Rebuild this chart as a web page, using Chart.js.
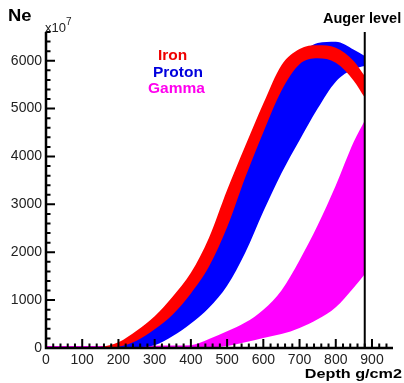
<!DOCTYPE html>
<html>
<head>
<meta charset="utf-8">
<script src="https://cdn.jsdelivr.net/npm/chart.js@4.4.1/dist/chart.umd.min.js"></script>
<style>
  body { margin: 0; background: #fff; }
  #wrap { position: relative; width: 404px; height: 383px; font-family: 'Liberation Sans', Arial, sans-serif; }
  .lbl { position: absolute; line-height: 1; font-weight: bold; white-space: nowrap; }
</style>
</head>
<body>
<div id="wrap">
  <canvas id="showerChart"></canvas>
  <div class="lbl" style="left:8px; top:7.5px; font-size:16px; color:#000; transform:scaleX(1.15); transform-origin:left;">Ne</div>
  <div class="lbl" style="left:45px; top:21px; font-size:13px; font-weight:normal; color:#222;">x10<span style="font-size:10px; position:relative; top:-7px;">7</span></div>
  <div class="lbl" style="left:323px; top:10.7px; font-size:14.5px; color:#000;">Auger level</div>
  <div class="lbl" style="left:158px; top:47px; font-size:15.5px; color:#ee0000;">Iron</div>
  <div class="lbl" style="left:153px; top:63.5px; font-size:15.5px; color:#0000dd;">Proton</div>
  <div class="lbl" style="left:148px; top:80px; font-size:15.5px; color:#ff00ee;">Gamma</div>
  <div class="lbl" style="right:2px; top:367.8px; font-size:12px; color:#000; transform:scaleX(1.35); transform-origin:right;">Depth g/cm2</div>
</div>
<script>
// profundidad atmosferica (g/cm2)
const depth = [0, 50, 100, 150, 200, 250, 300, 350, 400, 450, 500, 550, 600, 650, 700, 750, 800, 850, 880];

// bandas Ne (x10^7): borde superior / inferior
const ironHi   = [0, 0, 3, 20, 120, 360, 665, 1076, 1571, 2305, 3298, 4219, 5106, 5907, 6247, 6325, 6270, 5990, 5680];
const ironLo   = [0, 0, 0, 5, 25, 150, 390, 700, 1140, 1700, 2520, 3560, 4508, 5375, 5929, 6052, 5957, 5579, 5230];
const protonHi = [0, 0, 0, 10, 60, 250, 520, 880, 1350, 2000, 2900, 3900, 4800, 5650, 6100, 6370, 6394, 6230, 6100];
const protonLo = [0, 0, 0, 0, 5, 18, 60, 250, 510, 840, 1300, 1990, 2850, 3650, 4340, 5000, 5560, 5830, 5890];
const gammaHi  = [40, 40, 40, 40, 40, 42, 45, 50, 60, 190, 350, 530, 800, 1203, 1835, 2563, 3396, 4311, 4750];
const gammaLo  = [0, 0, 0, 0, 0, 0, 0, 0, 0, 10, 40, 120, 210, 290, 420, 600, 852, 1264, 1540];

// etiquetas de los ejes
const xTicks = [0, 100, 200, 300, 400, 500, 600, 700, 800, 900];
const yTicks = [0, 1000, 2000, 3000, 4000, 5000, 6000];

const augerDepth = 880;
const xMax = 958;
const yMax = 6600;

const FONT = "'Liberation Sans', Arial, sans-serif";

function pts(ys) {
  return depth.map((d, i) => ({ x: d, y: ys[i] }));
}

function banda(ys, color, fill) {
  return {
    data: pts(ys),
    borderColor: 'transparent',
    borderWidth: 0,
    backgroundColor: color,
    pointRadius: 0,
    fill: fill,
    cubicInterpolationMode: 'monotone'
  };
}

// ticks hacia adentro, estilo ROOT
const ticksRoot = {
  id: 'ticksRoot',
  afterDatasetsDraw(chart) {
    const { ctx, chartArea: a, scales: { x, y } } = chart;
    ctx.save();
    ctx.strokeStyle = '#000';
    ctx.lineWidth = 2;
    ctx.beginPath();
    for (let v = 0; v <= x.max; v += 20) {
      const px = x.getPixelForValue(v);
      const len = v % 100 === 0 ? 9 : 4.5;
      ctx.moveTo(px, a.bottom);
      ctx.lineTo(px, a.bottom - len);
    }
    for (let v = 0; v <= y.max; v += 200) {
      const py = y.getPixelForValue(v);
      const len = v % 1000 === 0 ? 9 : 4.5;
      ctx.moveTo(a.left, py);
      ctx.lineTo(a.left + len, py);
    }
    ctx.stroke();
    ctx.lineWidth = 2.5;
    ctx.beginPath();
    ctx.moveTo(a.left, a.top);
    ctx.lineTo(a.left, a.bottom);
    ctx.lineTo(a.right, a.bottom);
    ctx.stroke();
    ctx.restore();
  }
};

const ctx = document.getElementById('showerChart').getContext('2d');
new Chart(ctx, {
  type: 'line',
  data: {
    datasets: [
      {
        data: [{ x: augerDepth, y: 0 }, { x: augerDepth, y: yMax }],
        borderColor: '#000',
        borderWidth: 2,
        pointRadius: 0,
        fill: false
      },
      banda(ironHi, '#ff0000', '+1'),
      banda(ironLo, '#ff0000', false),
      banda(protonHi, '#0000ff', '+1'),
      banda(protonLo, '#0000ff', false),
      banda(gammaHi, '#ff00ff', '+1'),
      banda(gammaLo, '#ff00ff', false)
    ]
  },
  options: {
    responsive: true,
    maintainAspectRatio: false,
    animation: false,
    layout: { padding: { top: 32, right: 11, left: 0, bottom: 0 } },
    plugins: { legend: { display: false }, tooltip: { enabled: false } },
    scales: {
      x: {
        type: 'linear',
        min: 0,
        max: xMax,
        grid: { display: false, drawTicks: false },
        border: { display: false },
        afterBuildTicks(s) { s.ticks = xTicks.map(v => ({ value: v })); },
        ticks: {
          autoSkip: false, maxRotation: 0,
          padding: 4, color: '#222', font: { family: FONT, size: 14 },
          callback: v => String(v)
        },
        afterFit(s) { s.height = 35; }
      },
      y: {
        min: 0,
        max: yMax,
        grid: { display: false, drawTicks: false },
        border: { display: false },
        afterBuildTicks(s) { s.ticks = yTicks.map(v => ({ value: v })); },
        ticks: {
          autoSkip: false,
          padding: 4, color: '#222', font: { family: FONT, size: 14 },
          callback: v => String(v)
        },
        afterFit(s) { s.width = 46; }
      }
    }
  },
  plugins: [ticksRoot]
});
</script>
</body>
</html>
